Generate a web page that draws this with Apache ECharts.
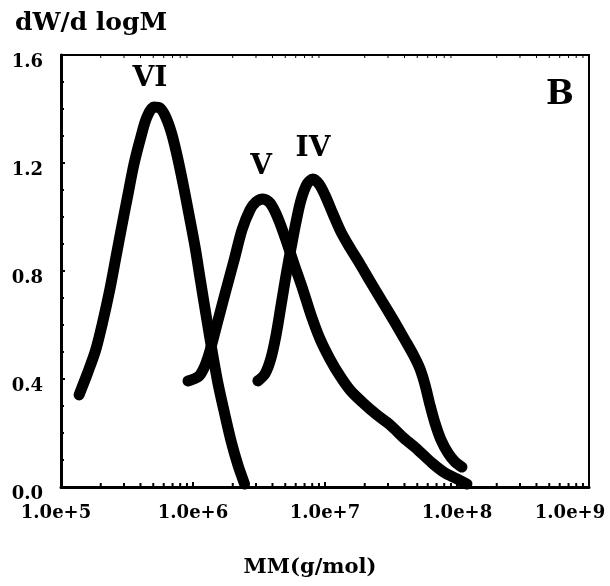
<!DOCTYPE html>
<html>
<head>
<meta charset="utf-8">
<title>dW/d logM</title>
<script src="https://cdn.jsdelivr.net/npm/echarts@6/dist/echarts.min.js"></script>
<style>
  html, body { margin: 0; padding: 0; background: #fff; }
  #chart { width: 610px; height: 586px; }
</style>
</head>
<body>
<div id="chart"></div>
<script>
// Molar mass (g/mol) and differential weight distribution dW/d logM for each fraction
const massVI = [1.37e5, 1.60e5, 1.83e5, 2.07e5, 2.34e5, 2.60e5, 2.89e5, 3.21e5, 3.56e5, 3.99e5,
  4.47e5, 5.05e5, 5.60e5, 6.22e5, 6.91e5, 7.68e5, 8.50e5, 9.40e5, 1.04e6, 1.14e6,
  1.26e6, 1.40e6, 1.55e6, 1.74e6, 1.95e6, 2.19e6, 2.46e6];
const valuesVI = [0.341, 0.426, 0.507, 0.611, 0.730, 0.848, 0.967, 1.081, 1.193, 1.289,
  1.370, 1.407, 1.404, 1.370, 1.307, 1.215, 1.111, 1.000, 0.885, 0.763,
  0.633, 0.500, 0.381, 0.270, 0.167, 0.081, 0.011];

const massV = [9.16e5, 1.11e6, 1.23e6, 1.35e6, 1.55e6, 1.78e6, 2.05e6, 2.35e6, 2.70e6, 3.00e6,
  3.39e6, 3.83e6, 4.40e6, 5.15e6, 5.93e6, 6.81e6, 7.83e6, 9.17e6, 1.09e7, 1.30e7,
  1.55e7, 1.91e7, 2.43e7, 3.11e7, 3.96e7, 5.07e7, 6.47e7, 8.11e7, 1.00e8, 1.19e8];
const valuesV = [0.393, 0.411, 0.448, 0.507, 0.619, 0.730, 0.841, 0.952, 1.026, 1.056,
  1.067, 1.052, 0.996, 0.904, 0.815, 0.730, 0.637, 0.548, 0.474, 0.411,
  0.359, 0.315, 0.270, 0.230, 0.181, 0.137, 0.089, 0.052, 0.030, 0.011];

const massIV = [3.10e6, 3.51e6, 3.90e6, 4.26e6, 4.65e6, 5.07e6, 5.53e6, 6.03e6, 6.58e6, 7.31e6,
  8.11e6, 9.01e6, 1.00e7, 1.15e7, 1.32e7, 1.55e7, 1.84e7, 2.19e7, 2.70e7, 3.33e7,
  4.04e7, 4.72e7, 5.25e7, 5.73e7, 6.24e7, 6.81e7, 7.57e7, 8.55e7, 9.66e7, 1.09e8];
const valuesIV = [0.393, 0.419, 0.478, 0.563, 0.674, 0.785, 0.885, 0.981, 1.063, 1.122,
  1.141, 1.122, 1.081, 1.011, 0.945, 0.885, 0.826, 0.763, 0.689, 0.615,
  0.544, 0.485, 0.437, 0.378, 0.304, 0.237, 0.174, 0.126, 0.093, 0.074];

// Axis ranges and tick labels
const xDecades = [5, 6, 7, 8, 9];
const xTickLabels = ['1.0e+5', '1.0e+6', '1.0e+7', '1.0e+8', '1.0e+9'];
const xMinorMultipliers = [2, 3, 4, 5, 6, 7, 8, 9];
const yTickLabels = ['0.0', '0.4', '0.8', '1.2', '1.6'];

const FONT = '"DejaVu Serif", "Liberation Serif", serif';
const INK = '#000';

function pairs(xs, ys) { return xs.map((x, i) => [x, ys[i]]); }

// minor tick positions on the log axis: 2..9 times each decade
const minorTicks = [];
xDecades.slice(0, -1).forEach(d => {
  xMinorMultipliers.forEach(m => minorTicks.push([m * Math.pow(10, d)]));
});

function curve(name, data) {
  return {
    name: name,
    type: 'line',
    data: data,
    showSymbol: false,
    smooth: 0.3,
    clip: false,
    lineStyle: { color: INK, width: 11, cap: 'round', join: 'round' },
    z: 3
  };
}

const chart = echarts.init(document.getElementById('chart'), null, { renderer: 'canvas' });

chart.setOption({
  animation: false,
  backgroundColor: '#fff',
  grid: {
    left: 61, top: 55, width: 528, height: 432,
    outerBoundsMode: 'none',
    containLabel: false,
    show: true, borderColor: INK, borderWidth: 2
  },
  xAxis: {
    type: 'log',
    logBase: 10,
    min: 1e5,
    max: 1e9,
    splitNumber: 4,
    axisLine: { lineStyle: { color: INK, width: 3 } },
    axisTick: { inside: true, length: 5, lineStyle: { color: INK, width: 2 } },
    splitLine: { show: false },
    axisLabel: {
      margin: 17,
      color: INK,
      fontFamily: FONT,
      fontWeight: 'bold',
      fontSize: 18,
      showMinLabel: true,
      showMaxLabel: true,
      hideOverlap: false,
      formatter: function (v) {
        const i = xDecades.indexOf(Math.round(Math.log10(v)));
        if (i === 0) return '{first|' + xTickLabels[i] + '}';
        if (i === xDecades.length - 1) return '{last|' + xTickLabels[i] + '}';
        return xTickLabels[i];
      },
      rich: {
        first: { fontFamily: FONT, fontWeight: 'bold', fontSize: 18, color: INK, padding: [0, 10, 0, 0] },
        last: { fontFamily: FONT, fontWeight: 'bold', fontSize: 18, color: INK, padding: [0, 38, 0, 0] }
      }
    },
    name: 'MM(g/mol)',
    nameLocation: 'middle',
    nameGap: 70,
    nameTextStyle: { color: INK, fontFamily: FONT, fontWeight: 'bold', fontSize: 21, padding: [0, 30, 0, 0] }
  },
  yAxis: {
    type: 'value',
    min: 0,
    max: 1.6,
    interval: 0.4,
    axisLine: { lineStyle: { color: INK, width: 3 } },
    axisTick: { inside: true, length: 4, lineStyle: { color: INK, width: 2 } },
    minorTick: { show: true, splitNumber: 4, length: 3, lineStyle: { color: INK, width: 2 } },
    splitLine: { show: false },
    axisLabel: {
      margin: 18,
      color: INK,
      fontFamily: FONT,
      fontWeight: 'bold',
      fontSize: 18,
      verticalAlign: 'top',
      lineHeight: 15,
      formatter: v => yTickLabels[Math.round(v / 0.4)]
    }
  },
  series: [
    curve('VI', pairs(massVI, valuesVI)),
    curve('V', pairs(massV, valuesV)),
    curve('IV', pairs(massIV, valuesIV)),
    {
      // minor ticks of the log axis, bottom and top edges of the frame
      type: 'custom',
      data: minorTicks,
      encode: { x: 0 },
      silent: true,
      z: 2,
      renderItem: function (params, api) {
        const cs = params.coordSys;
        const px = api.coord([api.value(0), 0])[0];
        const bottom = cs.y + cs.height;
        return {
          type: 'group',
          children: [
            { type: 'line', shape: { x1: px, y1: bottom, x2: px, y2: bottom - 4 }, style: { stroke: INK, lineWidth: 2 } },
            { type: 'line', shape: { x1: px, y1: cs.y, x2: px, y2: cs.y + 3 }, style: { stroke: INK, lineWidth: 1 } }
          ]
        };
      }
    }
  ],
  graphic: [
    { type: 'text', left: 15, top: 11, style: { text: 'dW/d logM', font: 'bold 25px ' + FONT, fill: INK } },
    { type: 'text', x: 150, y: 79, style: { text: 'VI', font: 'bold 28px ' + FONT, fill: INK, align: 'center', verticalAlign: 'middle', textAlign: 'center', textVerticalAlign: 'middle' } },
    { type: 'text', x: 261, y: 167, style: { text: 'V', font: 'bold 28px ' + FONT, fill: INK, align: 'center', verticalAlign: 'middle', textAlign: 'center', textVerticalAlign: 'middle' } },
    { type: 'text', x: 313, y: 149, style: { text: 'IV', font: 'bold 28px ' + FONT, fill: INK, align: 'center', verticalAlign: 'middle', textAlign: 'center', textVerticalAlign: 'middle' } },
    { type: 'text', x: 560, y: 95, style: { text: 'B', font: 'bold 33px ' + FONT, fill: INK, align: 'center', verticalAlign: 'middle', textAlign: 'center', textVerticalAlign: 'middle' } }
  ]
});
</script>
</body>
</html>
